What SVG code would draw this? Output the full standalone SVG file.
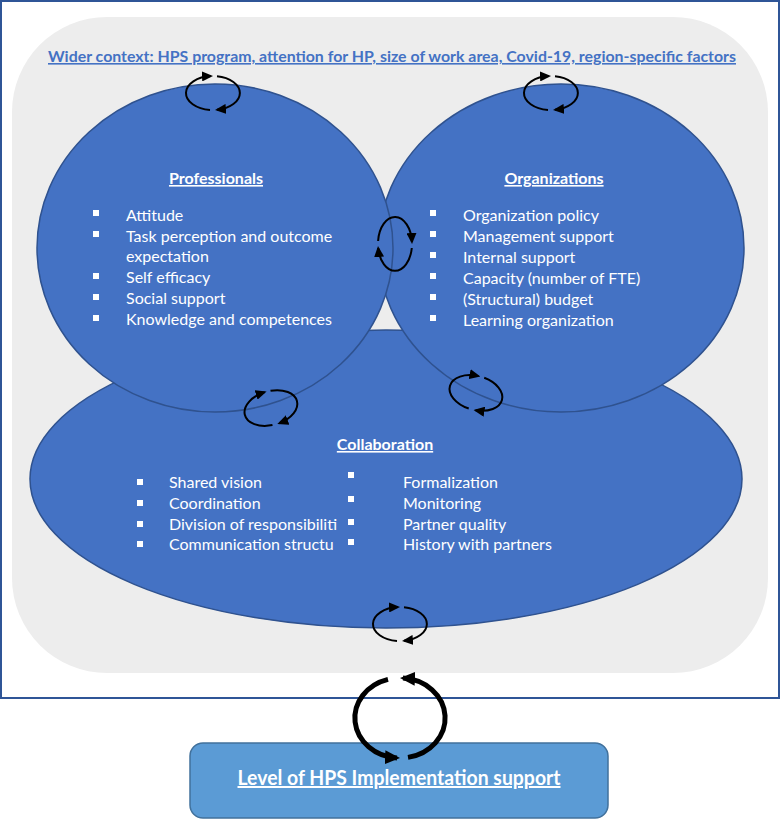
<svg xmlns="http://www.w3.org/2000/svg" width="780" height="821" viewBox="0 0 780 821">
<defs>
<style>
.t{font-family:Lato,"Liberation Sans",sans-serif;fill:#fff;font-size:16px}
.h{font-family:Lato,"Liberation Sans",sans-serif;fill:#fff;font-size:16px;font-weight:bold;text-decoration:underline}
.ell{fill:#4472C4;stroke:#2F528F;stroke-width:1.5}
.cyc{fill:none;stroke:#000;stroke-width:2;marker-end:url(#ah)}
.big{fill:none;stroke:#000;stroke-width:5;marker-end:url(#ahb)}
.b{fill:#fff}
</style>
<marker id="ah" markerUnits="userSpaceOnUse" markerWidth="11" markerHeight="10" viewBox="0 0 11 10" refX="9" refY="5" orient="auto">
<path d="M0,0 L11,5 L0,10 z" fill="#000"/>
</marker>
<marker id="ahb" markerUnits="userSpaceOnUse" markerWidth="15" markerHeight="14" viewBox="0 0 15 14" refX="12" refY="7" orient="auto">
<path d="M0,0 L15,7 L0,14 z" fill="#000"/>
</marker>
<g id="cy">
<path class="cyc" d="M -3,16.9 A 27 17 0 0 1 -2,-16.95"/>
<path class="cyc" d="M 4,-16.8 A 27 17 0 0 1 4,16.8"/>
</g>
</defs>
<rect x="1" y="1" width="778" height="697" fill="#fff" stroke="#2F5597" stroke-width="2"/>
<g id="context">
<rect x="12" y="17" width="756" height="656" rx="95" ry="95" fill="#EDEDED"/>
<text x="48" y="62" textLength="688" lengthAdjust="spacingAndGlyphs" style="font-family:Lato,'Liberation Sans',sans-serif;font-size:16px;font-weight:bold;fill:#4472C4;text-decoration:underline">Wider context: HPS program, attention for HP, size of work area, Covid-19, region-specific factors</text>
</g>
<g id="collaboration">
<ellipse class="ell" cx="386" cy="479" rx="356" ry="149"/>
<text class="h" x="385" y="450" text-anchor="middle">Collaboration</text>
<rect class="b" x="137" y="479" width="6" height="6"/>
<rect class="b" x="137" y="500" width="6" height="6"/>
<rect class="b" x="137" y="521" width="6" height="6"/>
<rect class="b" x="137" y="541" width="6" height="6"/>
<text class="t" x="169" y="488">Shared vision</text>
<text class="t" x="169" y="509">Coordination</text>
<text class="t" x="169" y="530">Division of responsibiliti</text>
<text class="t" x="169" y="550">Communication structu</text>
<rect class="b" x="348" y="472" width="6" height="6"/>
<rect class="b" x="348" y="496" width="6" height="6"/>
<rect class="b" x="348" y="519" width="6" height="6"/>
<rect class="b" x="348" y="539" width="6" height="6"/>
<text class="t" x="403" y="488">Formalization</text>
<text class="t" x="403" y="509">Monitoring</text>
<text class="t" x="403" y="530">Partner quality</text>
<text class="t" x="403" y="550">History with partners</text>
</g>
<g id="organizations">
<ellipse class="ell" cx="561" cy="248" rx="183" ry="164"/>
<text class="h" x="554" y="184" text-anchor="middle">Organizations</text>
<rect class="b" x="430" y="210" width="6" height="6"/>
<rect class="b" x="430" y="231" width="6" height="6"/>
<rect class="b" x="430" y="252" width="6" height="6"/>
<rect class="b" x="430" y="273" width="6" height="6"/>
<rect class="b" x="430" y="294" width="6" height="6"/>
<rect class="b" x="430" y="315" width="6" height="6"/>
<text class="t" x="463" y="221">Organization policy</text>
<text class="t" x="463" y="242">Management support</text>
<text class="t" x="463" y="263">Internal support</text>
<text class="t" x="463" y="284">Capacity (number of FTE)</text>
<text class="t" x="463" y="305">(Structural) budget</text>
<text class="t" x="463" y="326">Learning organization</text>
</g>
<g id="professionals">
<ellipse class="ell" cx="215" cy="248" rx="178" ry="164"/>
<text class="h" x="216" y="184" text-anchor="middle">Professionals</text>
<rect class="b" x="93" y="210" width="6" height="6"/>
<rect class="b" x="93" y="231" width="6" height="6"/>
<rect class="b" x="93" y="273" width="6" height="6"/>
<rect class="b" x="93" y="294" width="6" height="6"/>
<rect class="b" x="93" y="315" width="6" height="6"/>
<text class="t" x="126" y="221">Attitude</text>
<text class="t" x="126" y="242">Task perception and outcome</text>
<text class="t" x="126" y="262">expectation</text>
<text class="t" x="126" y="283">Self efficacy</text>
<text class="t" x="126" y="304">Social support</text>
<text class="t" x="126" y="325">Knowledge and competences</text>
</g>
<g id="implementation">
<rect x="190" y="743" width="418" height="75" rx="13" ry="13" fill="#5B9BD5" stroke="#41719C" stroke-width="1.5"/>
<text class="h" x="399" y="785" text-anchor="middle" textLength="323" lengthAdjust="spacingAndGlyphs" style="font-size:20px">Level of HPS Implementation support</text>
</g>
<g id="connectors">
<use href="#cy" transform="translate(213,93)"/>
<use href="#cy" transform="translate(551,93)"/>
<use href="#cy" transform="translate(395,244) rotate(90)"/>
<use href="#cy" transform="translate(271,408) rotate(-15)"/>
<use href="#cy" transform="translate(476,393) rotate(15)"/>
<use href="#cy" transform="translate(400,624)"/>
<g transform="translate(400,718)">
<path class="big" d="M -12,-38.6 A 45 40 0 0 0 -3,39.9"/>
<path class="big" d="M 8,39.4 A 45 40 0 0 0 3,-39.9"/>
</g>
</g>
</svg>
